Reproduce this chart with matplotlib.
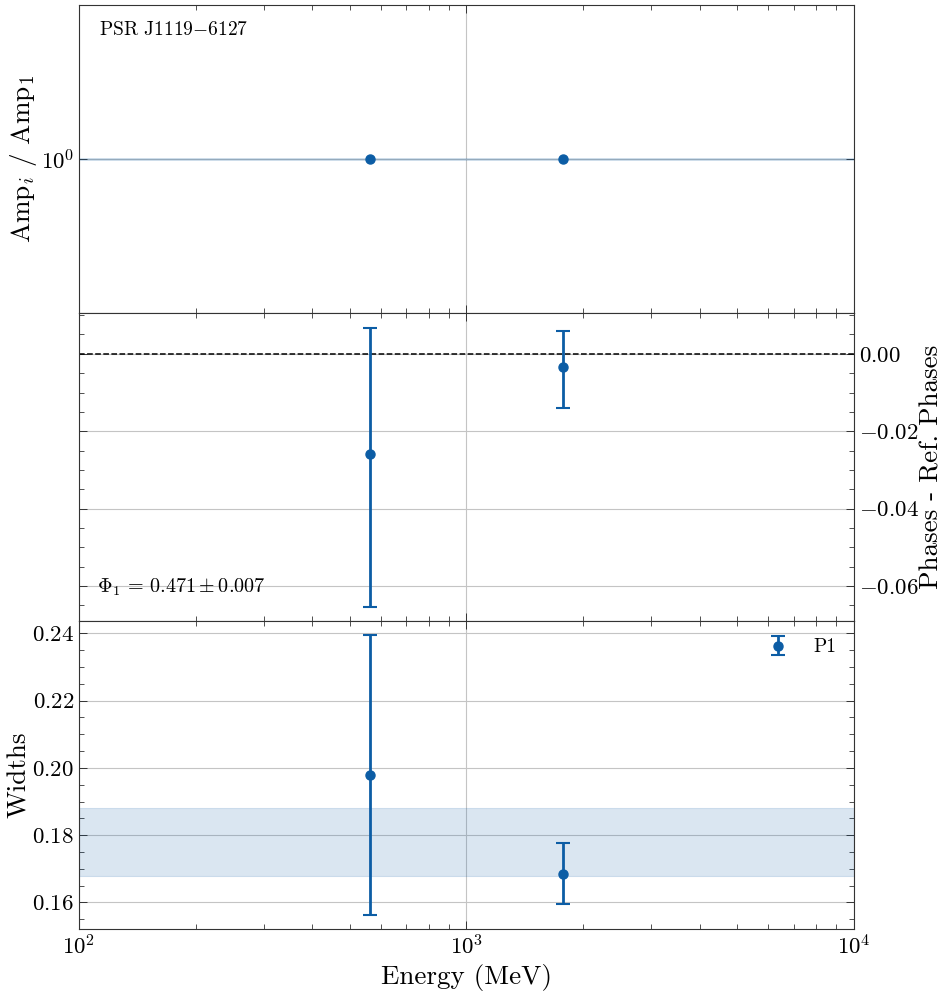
import numpy as np
import matplotlib
matplotlib.use("Agg")
import matplotlib.pyplot as plt
from matplotlib.ticker import AutoMinorLocator, NullFormatter, LogLocator, FixedLocator

# data
energies = [562, 1778]
amp_ratio = [1.0, 1.0]
phase_diff = [-0.026, -0.0034]
phase_err_lo = [0.0393, 0.0106]
phase_err_hi = [0.0327, 0.0093]
widths = [0.1978, 0.1684]
width_err_lo = [0.0416, 0.0088]
width_err_hi = [0.0416, 0.0094]
width_band = [0.1677, 0.1880]
psr_name = r'PSR J1119$-$6127'
phi_text = r'$\Phi_1\,=\,0.471 \pm 0.007$'

color = '#0C5DA5'

plt.rcParams['font.family'] = 'serif'
plt.rcParams['font.serif'] = ['cmr10']
plt.rcParams['mathtext.fontset'] = 'cm'
plt.rcParams['axes.formatter.use_mathtext'] = True
plt.rcParams['axes.unicode_minus'] = True
plt.rcParams['xtick.direction'] = 'in'
plt.rcParams['ytick.direction'] = 'in'
plt.rcParams['xtick.top'] = True
plt.rcParams['ytick.right'] = True
plt.rcParams['xtick.minor.visible'] = True
plt.rcParams['ytick.minor.visible'] = True
plt.rcParams['xtick.major.size'] = 6
plt.rcParams['ytick.major.size'] = 6
plt.rcParams['xtick.minor.size'] = 3.5
plt.rcParams['ytick.minor.size'] = 3.5
plt.rcParams['xtick.major.width'] = 0.7
plt.rcParams['ytick.major.width'] = 0.7
plt.rcParams['xtick.minor.width'] = 0.6
plt.rcParams['ytick.minor.width'] = 0.6
plt.rcParams['axes.linewidth'] = 0.8
plt.rcParams['axes.edgecolor'] = '#333333'
plt.rcParams['xtick.color'] = '#333333'
plt.rcParams['ytick.color'] = '#333333'
plt.rcParams['xtick.labelcolor'] = 'black'
plt.rcParams['ytick.labelcolor'] = 'black'

fig, axes = plt.subplots(3, 1, figsize=(9.52, 9.93), dpi=100, sharex=True)
fig.subplots_adjust(left=0.083, right=0.897, top=0.995, bottom=0.0645, hspace=0)
ax1, ax2, ax3 = axes

ebar_kw = dict(fmt='o', color=color, markersize=6.5, elinewidth=2, capsize=5, capthick=1.5)

for ax in axes:
    ax.grid(True, which='major', color='#c4c4c4', linewidth=0.8)
    ax.set_axisbelow(True)
    ax.tick_params(labelsize=16.5)

# top panel: amplitude ratios
ax1.axhline(1.0, color=color, alpha=0.25, linewidth=1.8, zorder=1)
ax1.plot(energies, amp_ratio, 'o', color=color, markersize=6.5, zorder=3)
ax1.set_xscale('log')
ax1.set_yscale('log')
ax1.set_ylim(0.9, 1 / 0.9)
ax1.yaxis.set_major_locator(FixedLocator([1.0]))
ax1.yaxis.set_minor_locator(FixedLocator([0.9]))
ax1.yaxis.set_minor_formatter(NullFormatter())
ax1.set_yticklabels([r'$10^0$'])
ax1.set_ylabel(r'Amp$_i$ / Amp$_1$', fontsize=19.5, labelpad=1)
ax1.text(0.026, 0.919, psr_name, transform=ax1.transAxes, fontsize=14, va='center', ha='left')

# middle panel: phases
ax2.axhline(0.0, color='black', linestyle='--', linewidth=1.1, zorder=2)
ax2.errorbar(energies, phase_diff, yerr=[phase_err_lo, phase_err_hi], zorder=3, **ebar_kw)
ax2.set_ylim(-0.0690, 0.01055)
ax2.set_yticks([0.0, -0.02, -0.04, -0.06])
ax2.yaxis.set_minor_locator(AutoMinorLocator(4))
ax2.yaxis.set_label_position('right')
ax2.tick_params(axis='y', which='both', left=True, right=True, labelleft=False, labelright=True)
ax2.set_ylabel('Phases - Ref. Phases', fontsize=19.5, labelpad=1)
ax2.text(0.023, 0.11, phi_text, transform=ax2.transAxes, fontsize=14.5, va='center', ha='left')

# bottom panel: widths
ax3.axhspan(width_band[0], width_band[1], color=color, alpha=0.15, linewidth=0.8, zorder=1)
ax3.errorbar(energies, widths, yerr=[width_err_lo, width_err_hi], label='P1', zorder=3, **ebar_kw)
ax3.set_ylim(0.1521, 0.2437)
ax3.set_yticks([0.16, 0.18, 0.20, 0.22, 0.24])
ax3.yaxis.set_minor_locator(AutoMinorLocator(4))
ax3.set_ylabel('Widths', fontsize=19.5, labelpad=1)
ax3.set_xlabel('Energy (MeV)', fontsize=19.5)
ax3.legend(loc='upper right', frameon=False, fontsize=14)

ax3.set_xlim(1e2, 1e4)
ax3.xaxis.set_major_locator(LogLocator(base=10))
ax3.xaxis.set_minor_locator(LogLocator(base=10, subs=np.arange(2, 10)))
ax3.xaxis.set_minor_formatter(NullFormatter())

fig.savefig('out.png', dpi=100)
